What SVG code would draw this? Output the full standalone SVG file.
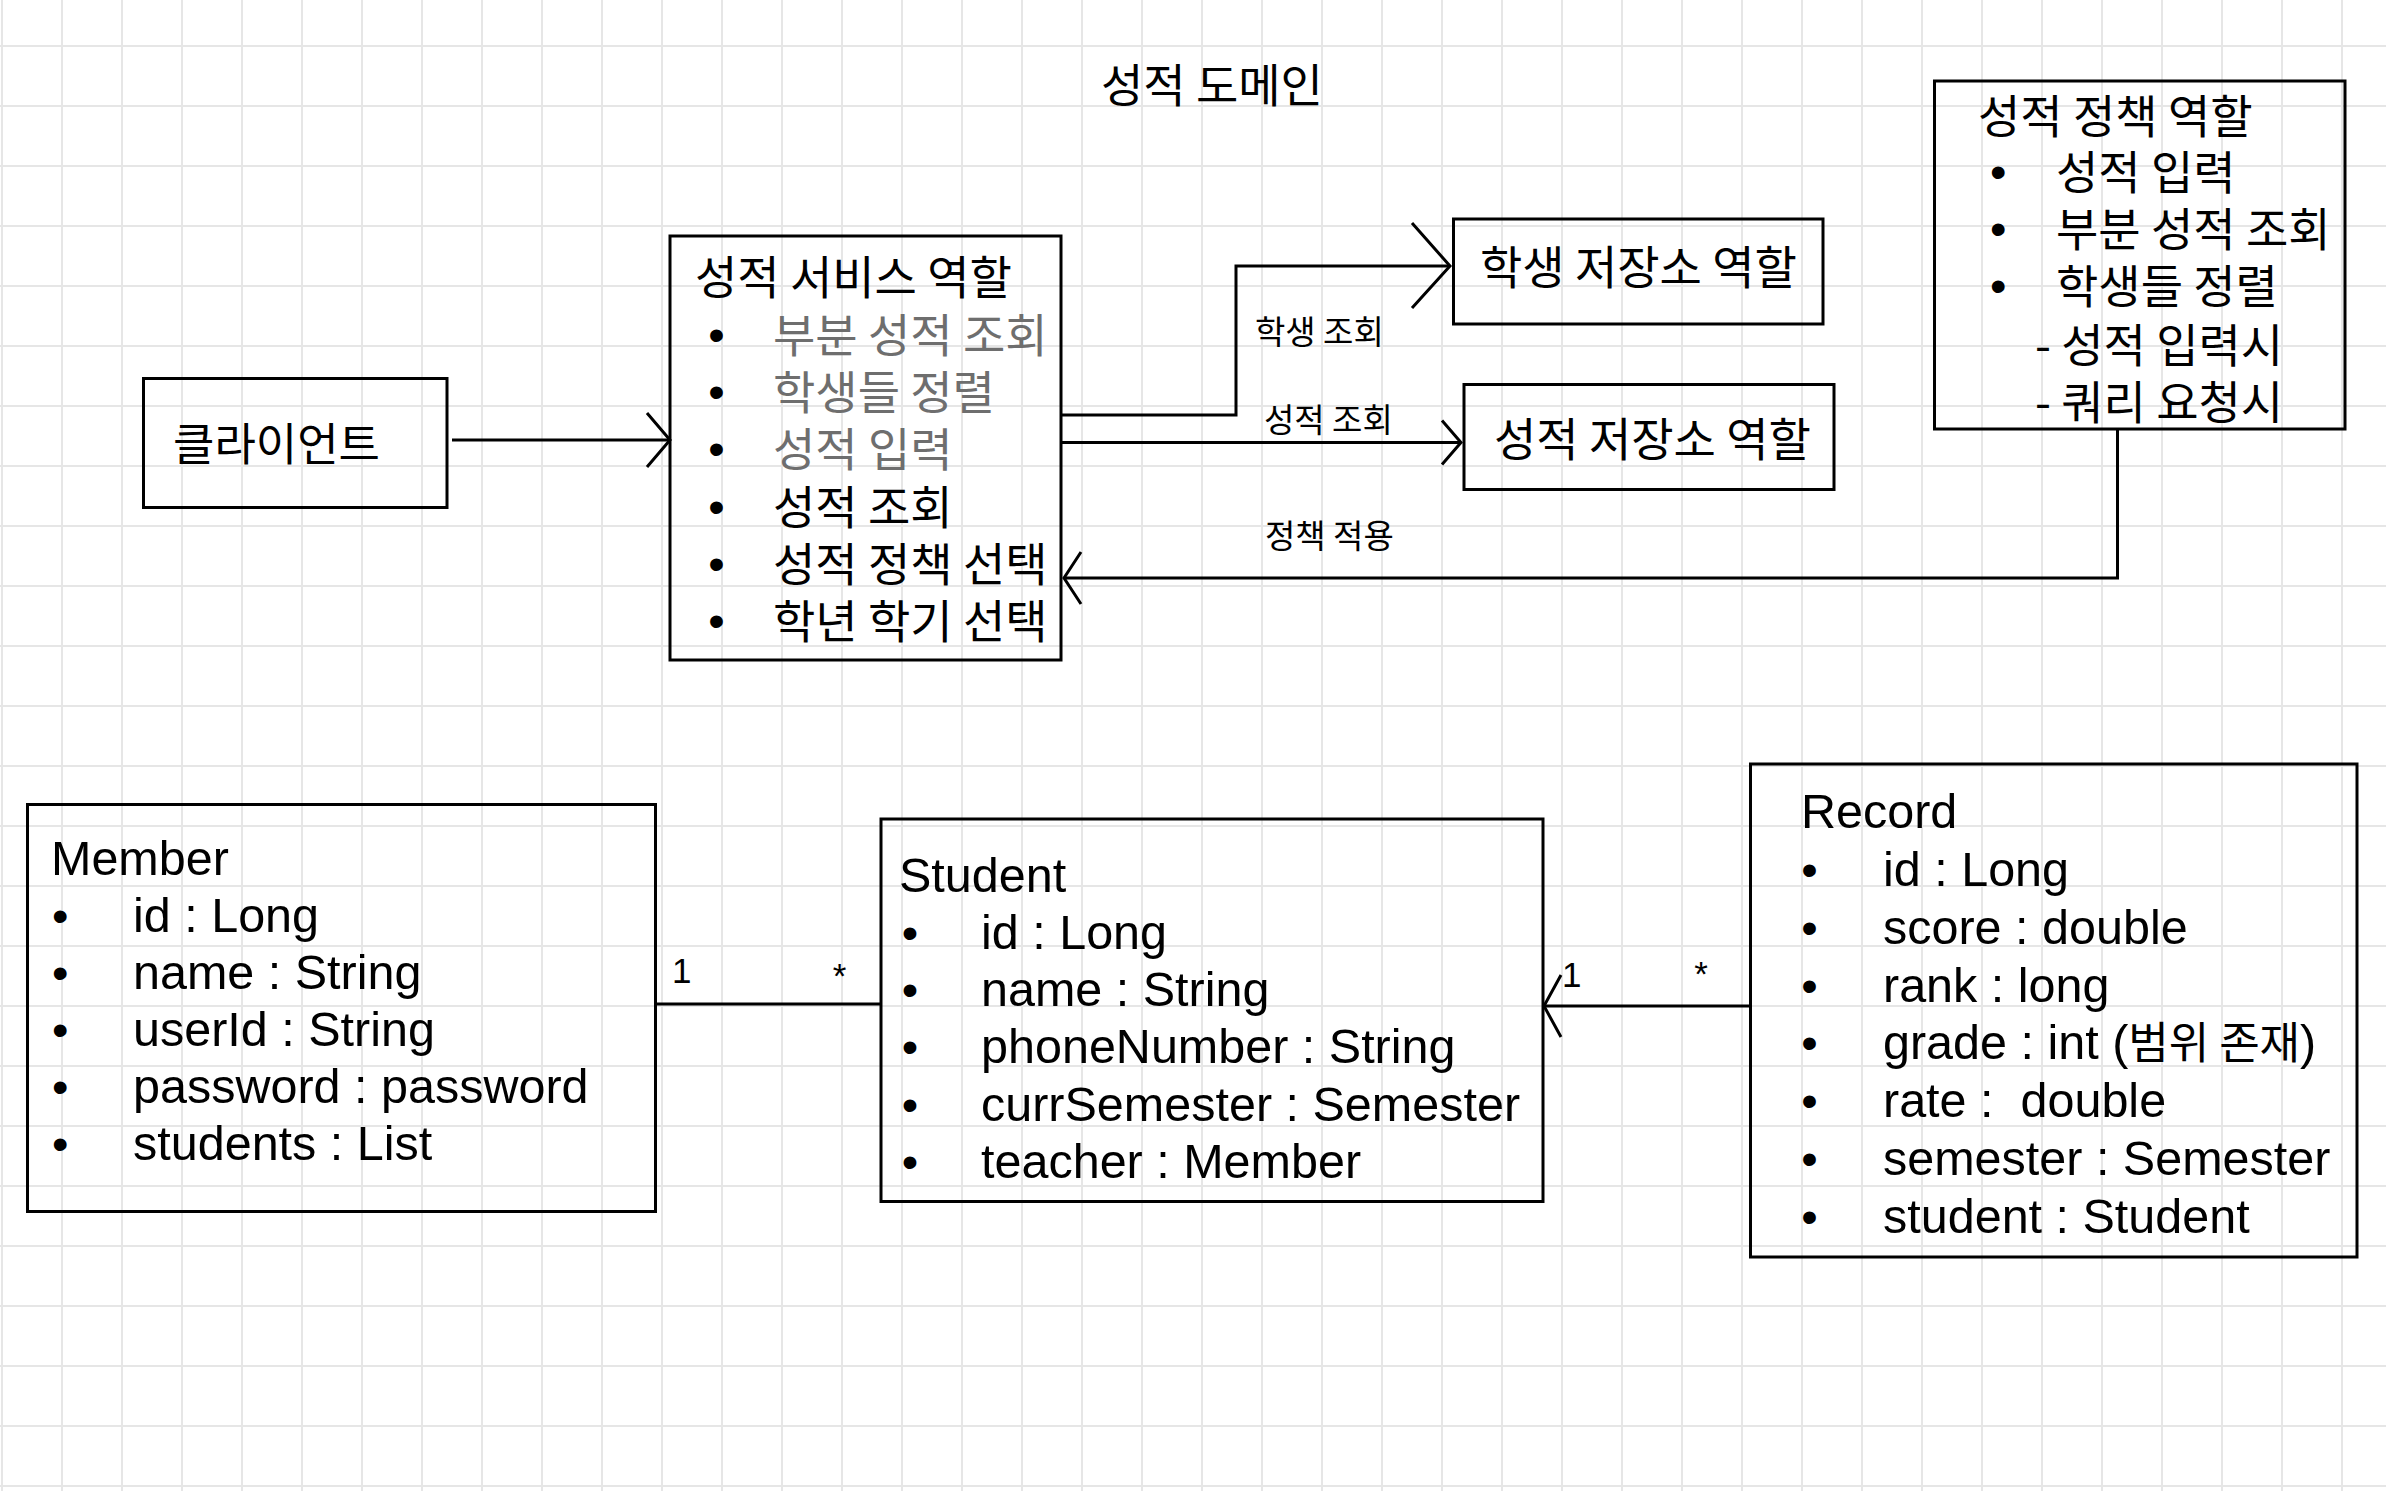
<svg xmlns="http://www.w3.org/2000/svg" width="2386" height="1491" viewBox="0 0 2386 1491">
<style>
text{white-space:pre}
.grid{fill:none;stroke:#e6e6e6;stroke-width:2}
.box{fill:none;stroke:#000;stroke-width:3}
.conn{fill:none;stroke:#000;stroke-width:3}
.ko{font-family:"Noto Sans CJK KR","Noto Sans CJK SC",sans-serif;font-size:46px;fill:#000}
.ks{font-size:33px}
.gray{fill:#6e6e6e}
.en{font-family:"Liberation Sans","Noto Sans CJK KR",sans-serif;font-size:48.5px;fill:#000}
.kin{font-family:"Noto Sans CJK KR",sans-serif;font-size:44px}
.bul{font-family:"Liberation Sans",sans-serif;font-size:47px;text-anchor:middle;fill:#000}
.mult{font-family:"Liberation Sans",sans-serif;font-size:35px;fill:#000}
</style>
<defs>
<marker id="arrClient" markerUnits="userSpaceOnUse" viewBox="-60 -60 70 120" markerWidth="70" markerHeight="120" refX="0" refY="0" orient="auto" overflow="visible"><path d="M-23,-27L0,0L-23,27" fill="none" stroke="#000" stroke-width="3"/></marker>
<marker id="arrBig" markerUnits="userSpaceOnUse" viewBox="-60 -60 70 120" markerWidth="70" markerHeight="120" refX="0" refY="0" orient="auto" overflow="visible"><path d="M-38,-43L0,0L-38,42" fill="none" stroke="#000" stroke-width="3"/></marker>
<marker id="arrSmall" markerUnits="userSpaceOnUse" viewBox="-60 -60 70 120" markerWidth="70" markerHeight="120" refX="0" refY="0" orient="auto" overflow="visible"><path d="M-19,-22L0,0L-19,22" fill="none" stroke="#000" stroke-width="3"/></marker>
<marker id="arrPolicy" markerUnits="userSpaceOnUse" viewBox="-60 -60 70 120" markerWidth="70" markerHeight="120" refX="0" refY="0" orient="auto" overflow="visible"><path d="M-17,-26L0,0L-17,26" fill="none" stroke="#000" stroke-width="3"/></marker>
<marker id="arrRecord" markerUnits="userSpaceOnUse" viewBox="-60 -60 70 120" markerWidth="70" markerHeight="120" refX="0" refY="0" orient="auto" overflow="visible"><path d="M-17,-31L0,0L-17,31" fill="none" stroke="#000" stroke-width="3"/></marker>
</defs>
<rect width="2386" height="1491" fill="#fff"/>
<path class="grid" d="M2 0V1491M62 0V1491M122 0V1491M182 0V1491M242 0V1491M302 0V1491M362 0V1491M422 0V1491M482 0V1491M542 0V1491M602 0V1491M662 0V1491M722 0V1491M782 0V1491M842 0V1491M902 0V1491M962 0V1491M1022 0V1491M1082 0V1491M1142 0V1491M1202 0V1491M1262 0V1491M1322 0V1491M1382 0V1491M1442 0V1491M1502 0V1491M1562 0V1491M1622 0V1491M1682 0V1491M1742 0V1491M1802 0V1491M1862 0V1491M1922 0V1491M1982 0V1491M2042 0V1491M2102 0V1491M2162 0V1491M2222 0V1491M2282 0V1491M2342 0V1491M0 46H2386M0 106H2386M0 166H2386M0 226H2386M0 286H2386M0 346H2386M0 406H2386M0 466H2386M0 526H2386M0 586H2386M0 646H2386M0 706H2386M0 766H2386M0 826H2386M0 886H2386M0 946H2386M0 1006H2386M0 1066H2386M0 1126H2386M0 1186H2386M0 1246H2386M0 1306H2386M0 1366H2386M0 1426H2386M0 1486H2386"/>

<g id="title">
<text class="ko" x="1101" y="102">성적 도메인</text>
</g>

<g id="connectors">
<path class="conn" d="M452 440H670" marker-end="url(#arrClient)"/>
<path class="conn" d="M1061 415H1236V266H1450" marker-end="url(#arrBig)"/>
<path class="conn" d="M1061 442.5H1461" marker-end="url(#arrSmall)"/>
<path class="conn" d="M2117.5 429V578H1064" marker-end="url(#arrPolicy)"/>
<path class="conn" d="M656 1004H881"/>
<path class="conn" d="M1750 1006H1544" marker-end="url(#arrRecord)"/>
<text class="ko ks" x="1255" y="344">학생 조회</text>
<text class="ko ks" x="1264" y="432">성적 조회</text>
<text class="ko ks" x="1265" y="548">정책 적용</text>
<text class="mult" x="672" y="983">1</text>
<text class="mult" x="839.5" y="988" text-anchor="middle">*</text>
<text class="mult" x="1562" y="987">1</text>
<text class="mult" x="1701" y="986" text-anchor="middle">*</text>
</g>

<g id="client">
<rect class="box" x="143.5" y="378.5" width="303.5" height="129"/>
<text class="ko" x="173" y="461" style="font-size:45px">클라이언트</text>
</g>

<g id="grade-service">
<rect class="box" x="670" y="236" width="391" height="424"/>
<text class="ko" x="695" y="294">성적 서비스 역할</text>
<text class="bul" x="716.5" y="350.5">•</text>
<text class="bul" x="716.5" y="407.5">•</text>
<text class="bul" x="716.5" y="464.5">•</text>
<text class="bul" x="716.5" y="522.5">•</text>
<text class="bul" x="716.5" y="579.5">•</text>
<text class="bul" x="716.5" y="636.5">•</text>
<text class="ko gray" x="773" y="352">부분 성적 조회</text>
<text class="ko gray" x="773" y="409">학생들 정렬</text>
<text class="ko gray" x="773" y="466">성적 입력</text>
<text class="ko" x="773" y="524">성적 조회</text>
<text class="ko" x="773" y="581">성적 정책 선택</text>
<text class="ko" x="773" y="638">학년 학기 선택</text>
</g>

<g id="student-repo">
<rect class="box" x="1453.5" y="219" width="369.5" height="105"/>
<text class="ko" x="1480" y="284">학생 저장소 역할</text>
</g>

<g id="grade-repo">
<rect class="box" x="1464" y="384.5" width="370" height="105"/>
<text class="ko" x="1494" y="455.5">성적 저장소 역할</text>
</g>

<g id="grade-policy">
<rect class="box" x="1934.5" y="81" width="410.5" height="348"/>
<text class="ko" x="1978" y="132.5">성적 정책 역할</text>
<text class="bul" x="1998.3" y="187.5">•</text>
<text class="bul" x="1998.3" y="244.5">•</text>
<text class="bul" x="1998.3" y="301.5">•</text>
<text class="ko" x="2056" y="189">성적 입력</text>
<text class="ko" x="2056" y="246">부분 성적 조회</text>
<text class="ko" x="2056" y="303">학생들 정렬</text>
<text class="ko" x="2035" y="362">- 성적 입력시</text>
<text class="ko" x="2035" y="419">- 쿼리 요청시</text>
</g>

<g id="member">
<rect class="box" x="27.5" y="804.5" width="628" height="407"/>
<text class="en" x="51" y="875">Member</text>
<text class="bul" x="60.3" y="932">•</text>
<text class="bul" x="60.3" y="989">•</text>
<text class="bul" x="60.3" y="1046">•</text>
<text class="bul" x="60.3" y="1103">•</text>
<text class="bul" x="60.3" y="1160">•</text>
<text class="en" x="133" y="932">id : Long</text>
<text class="en" x="133" y="989">name : String</text>
<text class="en" x="133" y="1046">userId : String</text>
<text class="en" x="133" y="1103">password : password</text>
<text class="en" x="133" y="1160">students : List</text>
</g>

<g id="student">
<rect class="box" x="881" y="819" width="662" height="382.5"/>
<text class="en" x="899" y="892">Student</text>
<text class="bul" x="910" y="948.5">•</text>
<text class="bul" x="910" y="1006">•</text>
<text class="bul" x="910" y="1063">•</text>
<text class="bul" x="910" y="1120.5">•</text>
<text class="bul" x="910" y="1178">•</text>
<text class="en" x="981" y="948.5">id : Long</text>
<text class="en" x="981" y="1006">name : String</text>
<text class="en" x="981" y="1063">phoneNumber : String</text>
<text class="en" x="981" y="1120.5">currSemester : Semester</text>
<text class="en" x="981" y="1178">teacher : Member</text>
</g>

<g id="record">
<rect class="box" x="1750.5" y="764" width="606.5" height="493"/>
<text class="en" x="1801" y="828">Record</text>
<text class="bul" x="1809.6" y="886">•</text>
<text class="bul" x="1809.6" y="944">•</text>
<text class="bul" x="1809.6" y="1001.5">•</text>
<text class="bul" x="1809.6" y="1059">•</text>
<text class="bul" x="1809.6" y="1117">•</text>
<text class="bul" x="1809.6" y="1175">•</text>
<text class="bul" x="1809.6" y="1232.5">•</text>
<text class="en" x="1883" y="886">id : Long</text>
<text class="en" x="1883" y="944">score : double</text>
<text class="en" x="1883" y="1001.5">rank : long</text>
<text class="en" x="1883" y="1059">grade : int (<tspan class="kin">범위 존재</tspan>)</text>
<text class="en" x="1883" y="1117">rate :  double</text>
<text class="en" x="1883" y="1175">semester : Semester</text>
<text class="en" x="1883" y="1232.5">student : Student</text>
</g>
</svg>
